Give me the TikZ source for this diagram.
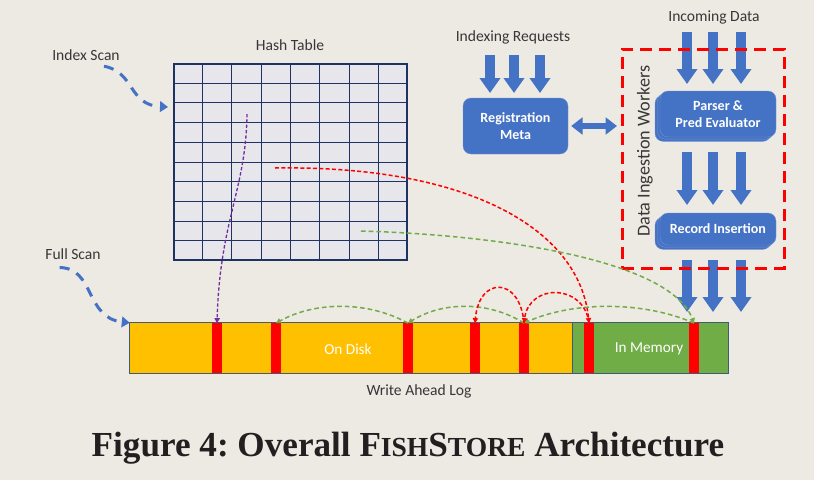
\documentclass[tikz,border=0pt]{standalone}
\usepackage{fontspec}
\setmainfont{Carlito}
\newfontfamily\capfont{Liberation Serif}
\usepackage{tikz}
\usetikzlibrary{arrows.meta,positioning,calc,shadows}
\definecolor{paper}{RGB}{237,233,227}
\definecolor{boxblue}{RGB}{68,114,196}
\definecolor{boxedge}{RGB}{120,150,210}
\definecolor{gridfill}{RGB}{231,230,234}
\definecolor{gridnavy}{RGB}{30,50,100}
\definecolor{diskorange}{RGB}{255,192,0}
\definecolor{memgreen}{RGB}{112,173,71}
\definecolor{logedge}{RGB}{65,90,120}
\definecolor{labelgray}{RGB}{55,55,55}
\definecolor{ptrpurple}{RGB}{112,48,160}
\definecolor{capink}{RGB}{35,31,32}
\newcommand{\fakesc}[1]{{\fontsize{23.5}{26}\selectfont #1}}
\tikzset{
  lbl/.style={font=\fontsize{13.3}{15}\selectfont, text=labelgray, inner sep=1pt},
  inlbl/.style={font=\fontsize{13}{15}\selectfont, text=white},
  bluebox/.style={draw=boxedge, line width=0.3pt, fill=boxblue, rounded corners=2.4mm, text=white, align=center, inner sep=1pt, font=\bfseries\fontsize{12}{14}\selectfont},
  stackbox/.style={bluebox, double copy shadow={shadow xshift=-0.75mm, shadow yshift=-0.65mm, fill=boxblue, draw=boxedge, line width=0.3pt}},
  blk/.style={draw=boxblue, line width=2.8mm, -{Triangle[length=4.5mm,width=6mm]}},
  dblk/.style={draw=boxblue, line width=2mm, {Triangle[length=3.4mm,width=5mm]}-{Triangle[length=3.4mm,width=5mm]}},
  workbox/.style={draw=red, line width=0.9mm, dash pattern=on 3.6mm off 2.1mm, inner sep=0, minimum width=48.6mm, minimum height=65.7mm},
  htab/.style={draw=gridnavy, fill=gridfill, line width=0.35mm, inner sep=0, minimum width=69.9mm, minimum height=58.8mm},
  gline/.style={draw=gridnavy, line width=0.3mm},
  logpart/.style={inner sep=0, minimum height=15mm},
  slot/.style={fill=red, inner sep=0, minimum width=3mm, minimum height=14.8mm},
  scan/.style={draw=boxblue, line width=0.9mm, dash pattern=on 3mm off 2.4mm, -{Triangle[length=2.4mm,width=3.2mm]}},
  rptr/.style={draw=red, line width=0.45mm, dash pattern=on 1.2mm off 0.7mm, -{Triangle[length=1.5mm,width=1.6mm]}},
  gptr/.style={draw=memgreen, line width=0.45mm, dash pattern=on 1.4mm off 0.9mm, -{Triangle[length=1.5mm,width=1.6mm]}},
  pptr/.style={draw=ptrpurple, line width=0.4mm, dash pattern=on 1mm off 0.6mm, -{Triangle[length=1.5mm,width=1.6mm]}},
}
\begin{document}
\begin{tikzpicture}[x=0.3mm, y=-0.3mm]
\fill[paper] (0,0) rectangle (814,480);
\useasboundingbox (0,0) rectangle (814,480);

% hash table
\node[htab] (ht) at (290.5,162) {};
\foreach \i in {1,...,7}
  \draw[gline] ($(ht.north west)!\i/8!(ht.north east)$) -- ($(ht.south west)!\i/8!(ht.south east)$);
\foreach \i in {1,...,9}
  \draw[gline] ($(ht.north west)!\i/10!(ht.south west)$) -- ($(ht.north east)!\i/10!(ht.south east)$);
\node[lbl] (htl) at (290,45) {Hash Table};
\node[lbl] (idx) at (86,55) {Index Scan};
\node[lbl] (full) at (73,254) {Full Scan};

% registration and ingestion
\node[lbl] (ireq) at (513,37) {Indexing Requests};
\node[lbl] (inc) at (714,17) {Incoming Data};
\node[bluebox, minimum width=31.5mm, minimum height=16.8mm] (reg) at (515.5,126) {Registration\\Meta};
\node[stackbox, minimum width=34.8mm, minimum height=13.8mm] (pe) at (718,114) {Parser \&\\Pred Evaluator};
\node[stackbox, minimum width=34.8mm, minimum height=9.6mm] (ri) at (718,229) {Record Insertion};
\foreach \x in {490,514,540} \draw[blk] (\x,55) -- (\x,93);
\foreach \x in {687,713,741} {
  \draw[blk] (\x,32) -- (\x,84);
  \draw[blk] (\x,152) -- (\x,205);
  \draw[blk] (\x,260) -- (\x,312);
}
\draw[dblk, shorten <=0.9mm, shorten >=1.5mm] (reg.east) -- (reg.east -| 622,0);
\node[workbox] (workers) at (703,158.5) {};
\node[lbl, rotate=90, font=\fontsize{15.5}{17}\selectfont] (dil) at (645,151) {Data Ingestion Workers};

% write ahead log
\node[logpart, fill=diskorange, minimum width=132.6mm] (disk) at (351,348) {};
\node[logpart, fill=memgreen, minimum width=46.8mm] (mem) at (650,348) {};
\draw[logedge, line width=0.35mm] (disk.north west) rectangle (mem.south east);
\draw[logedge, line width=0.3mm] (disk.north east) -- (disk.south east);
\node[inlbl] at (348,349) {On Disk};
\node[inlbl] at (649,349) {In Memory};
\foreach \x [count=\i] in {217,276,408,475,524,589,694}
  \node[slot] (m\i) at (\x,348) {};
\node[lbl] (wal) at (419,391) {Write Ahead Log};

% scans
\coordinate (isEnd) at (168,107);
\draw[scan] ([xshift=5.4mm,yshift=-1.3mm]idx.south) .. controls (135,72) and (128,105) .. (isEnd);
\draw[scan] ([xshift=-4mm,yshift=-2mm]full.south) .. controls (95,268) and (85,318) .. (disk.north west);

% pointers
\coordinate (hp) at (247,114);
\coordinate (hr) at (275,168);
\coordinate (hg) at (361,231);
\draw[pptr] (hp) .. controls (246,190) and (220,220) .. (m1.north);
\draw[rptr] (hr) .. controls (470,165) and (580,230) .. (m6.north);
\draw[gptr] (hg) .. controls (500,235) and (670,260) .. (m7.north);
\draw[gptr] (m7.north) .. controls +(-50,-22) and +(50,-22) .. (m5.north);
\draw[gptr] (m5.north) .. controls +(-35,-22) and +(35,-22) .. (m3.north);
\draw[gptr] (m3.north) .. controls +(-40,-22) and +(40,-22) .. (m2.north);
\draw[rptr] (m6.north) .. controls +(-5,-40) and +(5,-40) .. (m5.north);
\draw[rptr] (m5.north) .. controls +(-4,-47) and +(4,-47) .. (m4.north);

% caption
\node[font=\capfont\bfseries\fontsize{30}{34}\selectfont\frenchspacing, text=capink] (cap) at (408,448)
  {Figure 4: Overall F\fakesc{ISH}S\fakesc{TORE} Architecture};
\end{tikzpicture}
\end{document}
